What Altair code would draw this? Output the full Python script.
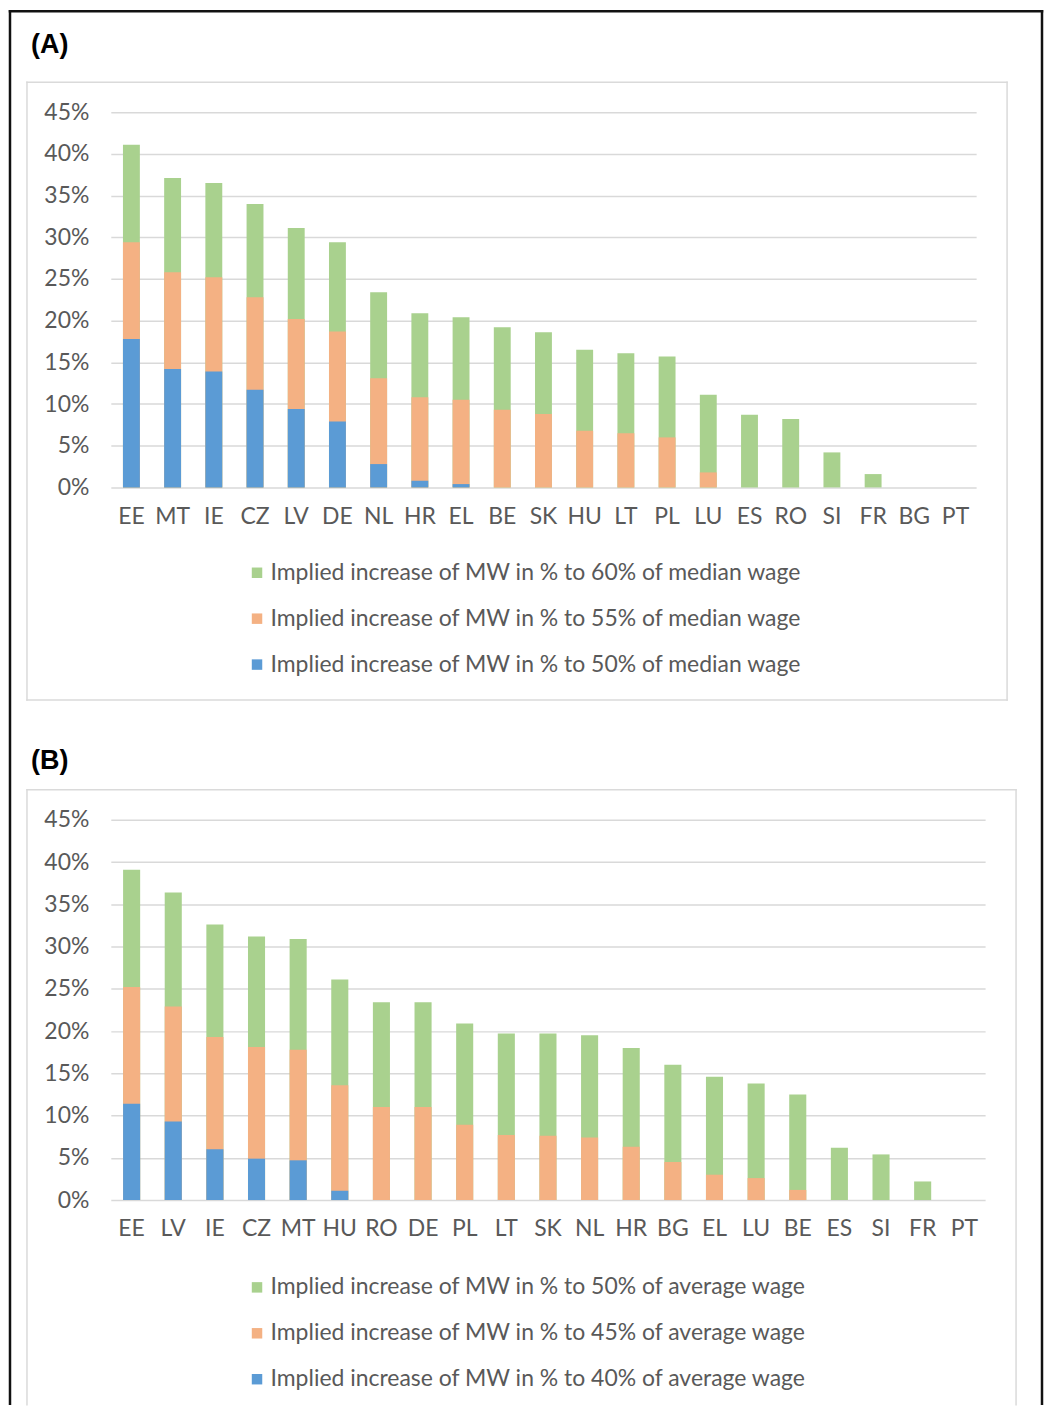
import altair as alt
import pandas as pd

# ---------------- Panel A data (median wage) ----------------
countries_a = ["EE", "MT", "IE", "CZ", "LV", "DE", "NL", "HR", "EL", "BE", "SK",
               "HU", "LT", "PL", "LU", "ES", "RO", "SI", "FR", "BG", "PT"]
a_60 = [41.1, 37.1, 36.5, 34.0, 31.1, 29.4, 23.4, 20.9, 20.4, 19.2, 18.6,
        16.5, 16.1, 15.7, 11.1, 8.7, 8.2, 4.2, 1.6, 0.0, 0.0]
a_55 = [29.4, 25.8, 25.2, 22.8, 20.2, 18.7, 13.1, 10.8, 10.5, 9.3, 8.8,
        6.8, 6.5, 6.0, 1.8, 0.0, 0.0, 0.0, 0.0, 0.0, 0.0]
a_50 = [17.8, 14.2, 13.9, 11.7, 9.4, 7.9, 2.8, 0.8, 0.4, 0.0, 0.0,
        0.0, 0.0, 0.0, 0.0, 0.0, 0.0, 0.0, 0.0, 0.0, 0.0]
series_a = [
    "Implied increase of MW in % to 60% of median wage",
    "Implied increase of MW in % to 55% of median wage",
    "Implied increase of MW in % to 50% of median wage",
]

# ---------------- Panel B data (average wage) ----------------
countries_b = ["EE", "LV", "IE", "CZ", "MT", "HU", "RO", "DE", "PL", "LT", "SK",
               "NL", "HR", "BG", "EL", "LU", "BE", "ES", "SI", "FR", "PT"]
b_50 = [39.1, 36.4, 32.6, 31.2, 30.9, 26.1, 23.4, 23.4, 20.9, 19.7, 19.7,
        19.5, 18.0, 16.0, 14.6, 13.8, 12.5, 6.2, 5.4, 2.2, 0.0]
b_45 = [25.2, 22.9, 19.3, 18.1, 17.8, 13.6, 11.0, 11.0, 8.9, 7.7, 7.6,
        7.4, 6.3, 4.5, 3.0, 2.6, 1.2, 0.0, 0.0, 0.0, 0.0]
b_40 = [11.4, 9.3, 6.0, 4.9, 4.7, 1.1, 0.0, 0.0, 0.0, 0.0, 0.0,
        0.0, 0.0, 0.0, 0.0, 0.0, 0.0, 0.0, 0.0, 0.0, 0.0]
series_b = [
    "Implied increase of MW in % to 50% of average wage",
    "Implied increase of MW in % to 45% of average wage",
    "Implied increase of MW in % to 40% of average wage",
]

colors = ["#a9d18e", "#f4b183", "#5b9bd5"]
y_ticks = [round(i * 0.05, 2) for i in range(10)]

FONT = "Lato"
GREY = "#595959"


def long_df(countries, values_list, series):
    rows = []
    for k, (name, vals) in enumerate(zip(series, values_list)):
        for c, v in zip(countries, vals):
            rows.append({"country": c, "series": name, "value": v / 100.0, "z": k})
    return pd.DataFrame(rows)


one = pd.DataFrame({"k": [0]})


def rule(x1, x2, y1, y2, color, width):
    return alt.Chart(one).mark_rule(
        color=color, strokeWidth=width, strokeCap="square"
    ).encode(x=alt.value(x1), x2=alt.value(x2), y=alt.value(y1), y2=alt.value(y2))


def box(x1, x2, y1, y2, color, width, closed=True):
    parts = [rule(x1, x2, y1, y1, color, width),
             rule(x1, x1, y1, y2, color, width),
             rule(x2, x2, y1, y2, color, width)]
    if closed:
        parts.append(rule(x1, x2, y2, y2, color, width))
    return parts


def panel(label, countries, values_list, series, width, height,
          legend_y, grey_box, box_closed, label_y, frame=None):
    df = long_df(countries, values_list, series)
    bars = alt.Chart(df).mark_bar().encode(
        x=alt.X("country:N", sort=countries,
                scale=alt.Scale(paddingInner=0.59, paddingOuter=0.295),
                axis=alt.Axis(title=None, labelAngle=0, labelFont=FONT,
                              labelFontSize=23, labelColor=GREY,
                              labelPadding=18, ticks=False, domain=False,
                              grid=False)),
        y=alt.Y("value:Q", stack=None,
                scale=alt.Scale(domain=[0, 0.45], nice=False),
                axis=alt.Axis(title=None, format=".0%", values=y_ticks,
                              labelFont=FONT, labelFontSize=23,
                              labelColor=GREY, labelPadding=22,
                              ticks=False, domain=False,
                              gridColor="#d9d9d9", gridWidth=1.5)),
        color=alt.Color("series:N",
                        scale=alt.Scale(domain=series, range=colors),
                        legend=alt.Legend(title=None, orient="none",
                                          legendX=135, legendY=legend_y,
                                          direction="vertical",
                                          symbolType="square",
                                          symbolSize=110,
                                          symbolStrokeWidth=0,
                                          labelFont=FONT, labelFontSize=23,
                                          labelColor=GREY, labelLimit=0,
                                          labelOffset=2, rowPadding=22,
                                          padding=0)),
        order=alt.Order("z:Q"),
    )
    text = alt.Chart(pd.DataFrame({"label": [label]})).mark_text(
        align="left", baseline="middle", font="Liberation Sans",
        fontSize=27, fontWeight="bold", color="black"
    ).encode(x=alt.value(-80), y=alt.value(label_y), text="label:N")
    layers = []
    if frame is not None:
        layers += box(*frame, color="#111111", width=2.5, closed=False)
    layers += box(*grey_box, color="#dadada", width=1.5, closed=box_closed)
    layers += [bars, text]
    return alt.layer(*layers).properties(width=width, height=height)


panel_a = panel("(A)", countries_a, [a_60, a_55, a_50], series_a,
                867, 376, legend_y=450, grey_box=(-84, 898, -30, 589),
                box_closed=True, label_y=-67, frame=(-101, 933, -101, 1294))
panel_b = panel("(B)", countries_b, [b_50, b_45, b_40], series_b,
                876, 381, legend_y=457, grey_box=(-84, 907, -30, 586),
                box_closed=False, label_y=-59)

chart = alt.vconcat(panel_a, panel_b, spacing=333, bounds="flush").resolve_scale(
    color="independent"
).properties(padding=0).configure_view(strokeWidth=0)

chart.save("out.html", embed_options={"renderer": "svg", "actions": False})
